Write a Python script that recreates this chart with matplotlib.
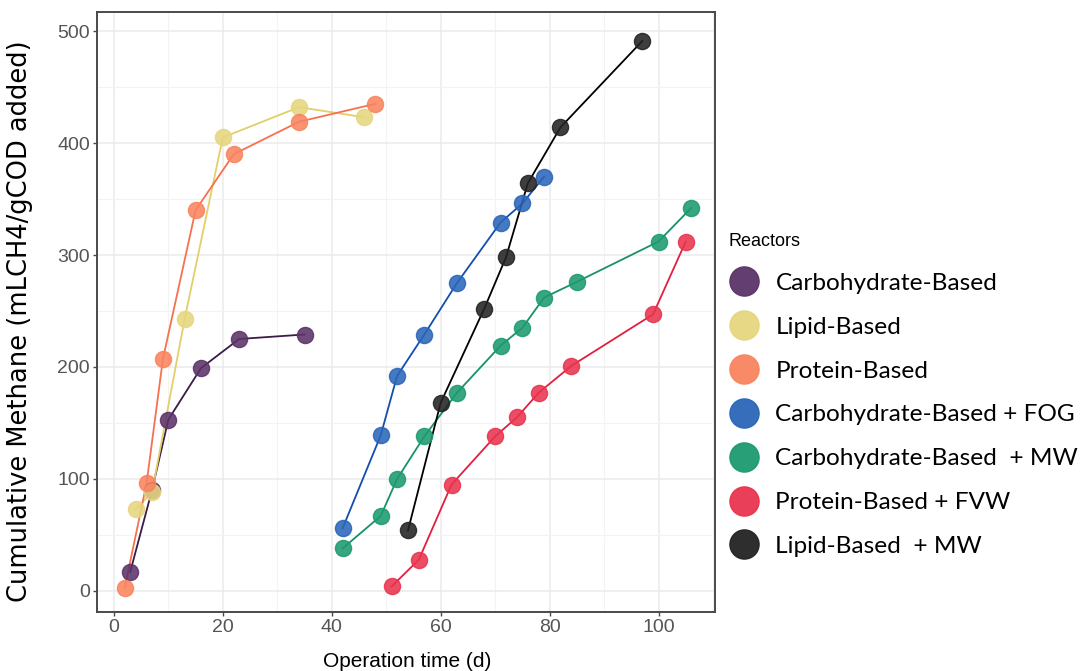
import matplotlib
matplotlib.use("Agg")
import matplotlib.pyplot as plt
from matplotlib.lines import Line2D
from matplotlib.ticker import MultipleLocator

# ---------------- data ----------------
reactors = ["Carbohydrate-Based", "Lipid-Based", "Protein-Based",
            "Carbohydrate-Based + FOG", "Carbohydrate-Based  + MW",
            "Protein-Based + FVW", "Lipid-Based  + MW"]

carb_x = [3, 7, 10, 16, 23, 35]
carb_y = [17, 90, 153, 199, 225, 229]

lipid_x = [4, 7, 13, 20, 34, 46]
lipid_y = [73, 88, 243, 405, 432, 423]

protein_x = [2, 6, 9, 15, 22, 34, 48]
protein_y = [3, 96, 207, 340, 390, 419, 435]

carb_fog_x = [42, 49, 52, 57, 63, 71, 75, 79]
carb_fog_y = [56, 139, 192, 229, 275, 329, 346, 370]

carb_mw_x = [42, 49, 52, 57, 63, 71, 75, 79, 85, 100, 106]
carb_mw_y = [38, 67, 100, 138, 177, 219, 235, 262, 276, 312, 342]

protein_fvw_x = [51, 56, 62, 70, 74, 78, 84, 99, 105]
protein_fvw_y = [4, 28, 95, 138, 155, 177, 201, 247, 312]

lipid_mw_x = [54, 60, 68, 72, 76, 82, 97]
lipid_mw_y = [54, 168, 252, 298, 364, 414, 491]

x_ticks = [0, 20, 40, 60, 80, 100]
y_ticks = [0, 100, 200, 300, 400, 500]

series_x = [carb_x, lipid_x, protein_x, carb_fog_x, carb_mw_x, protein_fvw_x, lipid_mw_x]
series_y = [carb_y, lipid_y, protein_y, carb_fog_y, carb_mw_y, protein_fvw_y, lipid_mw_y]

point_colors = ["#5B3368", "#E6D67F", "#F9845F", "#2B66B9", "#1C9A70", "#E8344F", "#232323"]
line_colors = ["#3A1C48", "#E2CF6A", "#F7704F", "#124EAE", "#16926A", "#E31E3E", "#000000"]

# ---------------- figure ----------------
W, H = 1084, 671
fig = plt.figure(figsize=(W / 100, H / 100), dpi=100)
L, R, T, B = 97, 714.6, 12, 612
ax = fig.add_axes([L / W, 1 - B / H, (R - L) / W, (B - T) / H])

for xs, ys, pc, lc in zip(series_x, series_y, point_colors, line_colors):
    ax.plot(xs, ys, color=lc, lw=1.3, zorder=3)
    ax.plot(xs, ys, ls="none", marker="o", ms=11.6, mfc=pc, mec=pc,
            alpha=0.88, zorder=4)

ax.set_xlim(-3.1, 110.3)
ax.set_ylim(-18.8, 517)
ax.set_xticks(x_ticks)
ax.set_yticks(y_ticks)
ax.xaxis.set_minor_locator(MultipleLocator(10))
ax.yaxis.set_minor_locator(MultipleLocator(50))

ax.grid(True, which="major", color="#EBEBEB", lw=1.1, zorder=0)
ax.grid(True, which="minor", color="#F3F3F3", lw=0.8, zorder=0)
ax.set_axisbelow(True)
for s in ax.spines.values():
    s.set_color("#4A4A4A")
    s.set_linewidth(1.4)

ax.tick_params(which="major", length=3.2, width=1.0, color="#4A4A4A",
               labelsize=14, labelcolor="#555555", pad=2)
ax.tick_params(which="minor", length=0)
for lab in ax.get_xticklabels() + ax.get_yticklabels():
    lab.set_family(["Liberation Sans", "DejaVu Sans"])

ax.set_xlabel("Operation time (d)", fontsize=15, family=["Liberation Sans", "DejaVu Sans"],
              color="black")
ax.xaxis.set_label_coords(0.502, -0.067)
ax.set_ylabel("Cumulative Methane (mLCH4/gCOD added)", fontsize=18.5,
              family=["DejaVu Sans"], color="black")
ax.yaxis.set_label_coords(-0.103, 0.485)

# ---------------- legend ----------------
handles = [Line2D([], [], ls="none", marker="o", ms=21, mfc=c, mec=c, alpha=0.95)
           for c in point_colors]
leg = fig.legend(handles, reactors, loc="upper left",
                 bbox_to_anchor=(729 / W, 1 - 233 / H),
                 frameon=False, borderpad=0, borderaxespad=0,
                 handlelength=1.2, handletextpad=0.7, labelspacing=0.93,
                 prop={"family": ["Lato", "DejaVu Sans"], "size": 17.6},
                 title="Reactors",
                 title_fontproperties={"family": ["Liberation Sans", "DejaVu Sans"], "size": 13},
                 alignment="left")

fig.savefig("out.png", dpi=100)
